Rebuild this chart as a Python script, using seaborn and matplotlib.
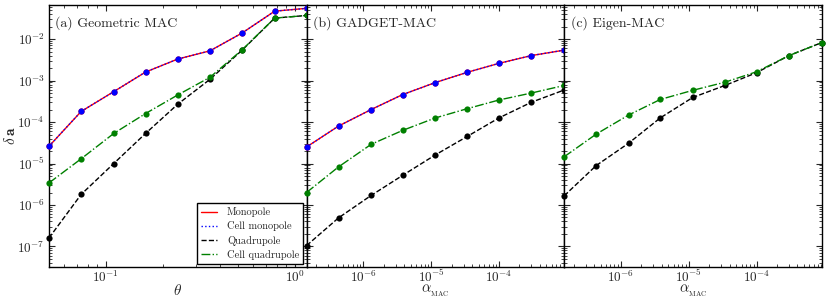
"""Force error versus opening criterion for three MAC variants."""

import matplotlib

matplotlib.use("Agg")
import matplotlib.pyplot as plt
import seaborn as sns


THETA = [0.05, 0.074, 0.11, 0.162, 0.24, 0.355, 0.525, 0.78, 1.15]
ALPHA = [1.45e-7, 4.3e-7, 1.3e-6, 3.8e-6, 1.14e-5, 3.4e-5, 1.0e-4, 3.0e-4, 9.1e-4]

# (a) Geometric MAC
GEO_MONO = [2.6e-5, 1.8e-4, 5.4e-4, 1.6e-3, 3.3e-3, 5.2e-3, 1.4e-2, 4.7e-2, 5.5e-2]
GEO_CELL_MONO = [2.6e-5, 1.8e-4, 5.4e-4, 1.6e-3, 3.3e-3, 5.2e-3, 1.4e-2, 4.7e-2, 5.5e-2]
GEO_QUAD = [1.6e-7, 1.8e-6, 1.0e-5, 5.3e-5, 2.7e-4, 1.07e-3, 5.4e-3, 3.2e-2, 3.7e-2]
GEO_CELL_QUAD = [3.4e-6, 1.3e-5, 5.3e-5, 1.6e-4, 4.5e-4, 1.2e-3, 5.5e-3, 3.2e-2, 3.7e-2]

# (b) GADGET-MAC
GAD_MONO = [2.5e-5, 8.0e-5, 2.0e-4, 4.6e-4, 8.9e-4, 1.58e-3, 2.6e-3, 4.0e-3, 5.4e-3]
GAD_CELL_MONO = [2.5e-5, 8.0e-5, 2.0e-4, 4.6e-4, 8.9e-4, 1.58e-3, 2.6e-3, 4.0e-3, 5.4e-3]
GAD_QUAD = [1.05e-7, 4.9e-7, 1.7e-6, 5.2e-6, 1.6e-5, 4.5e-5, 1.26e-4, 3.0e-4, 5.9e-4]
GAD_CELL_QUAD = [2.0e-6, 8.3e-6, 2.9e-5, 6.3e-5, 1.25e-4, 2.1e-4, 3.4e-4, 5.0e-4, 7.6e-4]

# (c) Eigen-MAC
EIG_QUAD = [1.66e-6, 8.9e-6, 3.1e-5, 1.26e-4, 3.9e-4, 7.6e-4, 1.55e-3, 4.0e-3, 8.2e-3]
EIG_CELL_QUAD = [1.45e-5, 5.1e-5, 1.48e-4, 3.5e-4, 5.8e-4, 9.1e-4, 1.63e-3, 4.0e-3, 8.2e-3]

STYLES = {
    "Monopole": ("r", "-"),
    "Cell monopole": ("b", ":"),
    "Quadrupole": ("k", "--"),
    "Cell quadrupole": ("g", "-."),
}

sns.set_style("ticks")
plt.rcParams.update({
    "font.family": ["cmr10", "DejaVu Serif"],
    "mathtext.fontset": "cm",
    "axes.formatter.use_mathtext": True,
    "axes.edgecolor": "black",
    "axes.linewidth": 1.0,
    "xtick.direction": "in",
    "ytick.direction": "in",
    "xtick.top": True,
    "ytick.right": True,
    "xtick.major.size": 4,
    "ytick.major.size": 4,
    "xtick.minor.size": 2,
    "ytick.minor.size": 2,
    "xtick.labelsize": 9.5,
    "ytick.labelsize": 9.5,
    "xtick.major.pad": 1.5,
    "ytick.major.pad": 3,
})


def draw_series(ax, x, y, name, show_label):
    color, ls = STYLES[name]
    sns.lineplot(x=x, y=y, ax=ax, color=color, linestyle=ls, linewidth=1.0,
                 label=name if show_label else None, legend=False)
    sns.scatterplot(x=x, y=y, ax=ax, color=color, s=20, linewidth=0,
                    clip_on=False, zorder=3, legend=False)


fig, axes = plt.subplots(1, 3, figsize=(8.3, 2.97), sharey=True)
fig.subplots_adjust(left=0.059, right=0.990, bottom=0.101, top=0.983, wspace=0)
ax_a, ax_b, ax_c = axes
for ax in axes:
    ax.set_xscale("log")
    ax.set_yscale("log")

draw_series(ax_a, THETA, GEO_MONO, "Monopole", True)
draw_series(ax_a, THETA, GEO_CELL_MONO, "Cell monopole", True)
draw_series(ax_a, THETA, GEO_QUAD, "Quadrupole", True)
draw_series(ax_a, THETA, GEO_CELL_QUAD, "Cell quadrupole", True)

draw_series(ax_b, ALPHA, GAD_MONO, "Monopole", False)
draw_series(ax_b, ALPHA, GAD_CELL_MONO, "Cell monopole", False)
draw_series(ax_b, ALPHA, GAD_QUAD, "Quadrupole", False)
draw_series(ax_b, ALPHA, GAD_CELL_QUAD, "Cell quadrupole", False)

draw_series(ax_c, ALPHA, EIG_QUAD, "Quadrupole", False)
draw_series(ax_c, ALPHA, EIG_CELL_QUAD, "Cell quadrupole", False)

ax_a.set_xlim(THETA[0], THETA[-1])
ax_b.set_xlim(ALPHA[0], ALPHA[-1])
ax_c.set_xlim(ALPHA[0], ALPHA[-1])
ax_a.set_ylim(3.2e-8, 0.066)

titles = ["(a) Geometric MAC", "(b) GADGET-MAC", "(c) Eigen-MAC"]
for ax, title in zip(axes, titles):
    ax.text(0.025, 0.93, title, transform=ax.transAxes, fontsize=10, va="center", ha="left")
    ax.tick_params(which="both", top=True, right=True)

ax_a.set_xlabel(r"$\theta$", fontsize=11, va="center")
ax_b.set_xlabel(r"$\alpha_{_{\rm MAC}}$", fontsize=10.5, va="center")
ax_c.set_xlabel(r"$\alpha_{_{\rm MAC}}$", fontsize=10.5, va="center")
ax_a.xaxis.set_label_coords(0.5, -0.088)
ax_b.xaxis.set_label_coords(0.5, -0.092)
ax_c.xaxis.set_label_coords(0.5, -0.092)
ax_a.set_ylabel(r"$\delta\,\mathbf{a}$", fontsize=11, va="center")
ax_a.yaxis.set_label_coords(-0.148, 0.5)

leg = ax_a.legend(loc="lower right", fontsize=7.5, frameon=True, fancybox=False,
                  framealpha=1, edgecolor="black", handlelength=1.5, handletextpad=1.0,
                  labelspacing=0.4, borderpad=0.4, borderaxespad=0.3)
leg.get_frame().set_linewidth(1.0)

fig.savefig("out.png", dpi=100)
